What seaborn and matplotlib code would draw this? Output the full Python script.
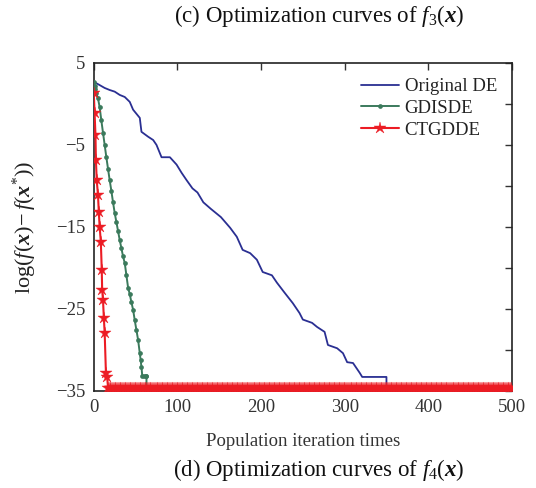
import numpy as np
import pandas as pd
import matplotlib
matplotlib.use("Agg")
import matplotlib.pyplot as plt
import seaborn as sns

# ---- data ----
de_x = [0, 7, 13, 19, 25, 31, 37, 43, 47, 55, 57, 65, 71, 75, 81, 91, 99, 105, 111, 118, 124, 131,
        140, 152, 163, 171, 178, 187, 195, 202, 213, 219, 228, 238, 246, 250, 261, 267, 276, 280,
        291, 298, 303, 310, 318, 321, 350, 350, 500]
de_y = [2.7, 2.3, 1.95, 1.7, 1.5, 1.1, 0.85, 0.25, -0.7, -1.7, -3.4, -4.0, -4.4, -5.0, -6.5, -6.5,
        -7.4, -8.4, -9.3, -10.3, -10.8, -12.0, -12.8, -13.8, -15.1, -16.2, -17.8, -18.2, -19.0,
        -20.5, -20.9, -21.8, -23.0, -24.3, -25.5, -26.3, -26.7, -27.2, -27.8, -29.4, -29.8, -30.4,
        -31.5, -31.6, -32.8, -33.3, -33.3, -34.6, -34.6]

gd_x = [0, 1, 2, 3, 5, 7, 9, 11, 13, 15, 17, 19, 21, 23, 25, 27, 29, 31, 33, 35, 37, 39, 41, 43,
        45, 47, 49, 51, 53, 55, 56, 57, 58, 60, 62, 63, 63, 500]
gd_y = [2.7, 2.2, 1.8, 1.3, 0.7, -0.4, -2.0, -3.5, -5.0, -6.5, -7.9, -9.3, -10.6, -12.0, -13.3,
        -14.4, -15.5, -16.6, -17.6, -18.6, -19.4, -20.9, -22.4, -23.2, -24.2, -25.1, -26.4, -27.6,
        -28.8, -30.4, -31.2, -32.1, -33.2, -33.2, -33.2, -33.2, -34.6, -34.6]

ct_x_head = [0, 1, 2, 2.5, 3.5, 5, 6, 7, 8.4, 9.5, 10, 11, 12, 13, 14.5, 16, 17]
ct_y_head = [1.3, -1.1, -3.8, -6.8, -9.3, -11.1, -13.2, -15.0, -16.8, -20.2, -22.7, -23.9, -26.1,
             -27.9, -32.8, -33.3, -34.6]
ct_final = -34.6          # value held from iteration 17 to 500
ct_tail_x = list(range(19, 501, 2))

labels = ["Original DE", "GDISDE", "CTGDDE"]
x_ticks = [0, 100, 200, 300, 400, 500]
y_ticks = [-35, -30, -25, -20, -15, -10, -5, 0, 5]
y_ticklabels = ["−35", "", "−25", "", "−15", "", "−5", "", "5"]

ct_x = ct_x_head + ct_tail_x
ct_y = ct_y_head + [ct_final] * len(ct_tail_x)

sns.set_theme(style="white")
plt.rcParams["font.family"] = ["Liberation Serif", "DejaVu Serif"]
plt.rcParams["mathtext.fontset"] = "custom"
plt.rcParams["mathtext.rm"] = "Liberation Serif"
plt.rcParams["mathtext.it"] = "Liberation Serif:italic"
plt.rcParams["mathtext.bf"] = "Liberation Serif:italic:bold"

fig = plt.figure(figsize=(5.36, 4.88), dpi=100)
ax = fig.add_axes([0.175, 0.199, 0.78, 0.672])

c_blue = "#2a2f92"
c_green = "#3b7a5c"
c_red = "#ec1c24"

sns.lineplot(x=de_x, y=de_y, ax=ax, color=c_blue, lw=1.3,
             label=labels[0], sort=False, estimator=None, zorder=2)
sns.lineplot(x=gd_x, y=gd_y, ax=ax, color=c_green, lw=1.4, marker="o", markersize=3.4,
             markeredgewidth=0, label=labels[1], sort=False, estimator=None, zorder=3)
sns.lineplot(x=ct_x, y=ct_y, ax=ax, color=c_red, lw=1.5, marker="*", markersize=9,
             markeredgewidth=0.3, markeredgecolor=c_red, label=labels[2], sort=False,
             estimator=None, zorder=4)

ax.set_xlim(0, 500)
ax.set_ylim(-35, 5)
ax.set_xticks(x_ticks)
ax.set_xticklabels([str(t) for t in x_ticks])
ax.set_yticks(y_ticks)
ax.set_yticklabels(y_ticklabels)
ax.tick_params(direction="in", length=5, width=1, top=True, right=True,
               labelsize=13.5, colors="#333333", labelcolor="#333333", pad=6)
for s in ax.spines.values():
    s.set_color("#222222")
    s.set_linewidth(1.2)

ax.set_xlabel("Population iteration times", fontsize=13.5, color="#333333", labelpad=12)
ax.set_ylabel(r"$\mathrm{log}(f(\mathbf{x})\!-f(\mathbf{x}^{*}))$", fontsize=16,
              color="#222222", labelpad=6)
ax.yaxis.set_label_coords(-0.13, 0.5)

leg = ax.legend(loc="upper right", frameon=False, fontsize=13.5, handlelength=2.0,
                handletextpad=0.3, labelspacing=0.25, borderaxespad=0.4)
for t in leg.get_texts():
    t.set_color("#222222")

fig.text(0.595, 0.967, r"(c) Optimization curves of $f_3(\mathbf{x})$", ha="center",
         va="center", fontsize=16.5, color="#111111")
fig.text(0.595, 0.037, r"(d) Optimization curves of $f_4(\mathbf{x})$", ha="center",
         va="center", fontsize=16.5, color="#111111")

fig.savefig("out.png", dpi=100)
